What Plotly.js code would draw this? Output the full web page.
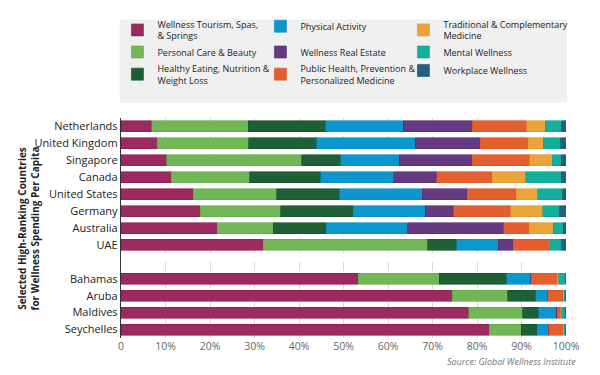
<!DOCTYPE html>
<html>
<head>
<meta charset="utf-8">
<script src="https://cdn.plot.ly/plotly-3.0.1.min.js"></script>
<style>html,body{margin:0;padding:0;background:#fff;}#chart{width:600px;height:375px;}</style>
</head>
<body>
<div id="chart"></div>
<script>
var countries = ["Netherlands","United Kingdom","Singapore","Canada","United States","Germany","Australia","UAE","Bahamas","Aruba","Maldives","Seychelles"];
var categoryOrder = ["Netherlands","United Kingdom","Singapore","Canada","United States","Germany","Australia","UAE"," ","Bahamas","Aruba","Maldives","Seychelles"];

var wellnessTourism = [6.9, 8.2, 10.3, 11.3, 16.2, 17.8, 21.6, 32.0, 53.3, 74.4, 78.2, 82.8];
var personalCare    = [21.7, 20.5, 30.3, 17.6, 18.8, 18.1, 12.6, 36.9, 18.2, 12.5, 12.1, 7.1];
var healthyEating   = [17.4, 15.3, 8.8, 16.0, 14.1, 16.3, 11.9, 6.6, 15.2, 6.3, 3.6, 3.6];
var physicalActivity= [17.4, 22.1, 13.1, 16.4, 18.6, 16.2, 18.3, 9.3, 5.4, 2.6, 3.9, 2.5];
var realEstate      = [15.5, 14.6, 16.4, 9.7, 10.1, 6.4, 21.6, 3.4, 0.1, 0.1, 0.2, 0.1];
var publicHealth    = [12.3, 10.8, 13.0, 12.4, 11.0, 12.8, 5.7, 8.0, 5.8, 3.5, 0.8, 3.3];
var traditional     = [4.1, 3.4, 5.0, 7.6, 4.8, 7.2, 5.4, 0.2, 0.4, 0.2, 0.2, 0.2];
var mentalWellness  = [3.7, 3.9, 2.0, 7.9, 5.7, 3.8, 2.3, 2.6, 1.5, 0.3, 0.8, 0.3];
var workplace       = [1.0, 1.2, 1.1, 1.1, 0.7, 1.4, 0.6, 1.0, 0.1, 0.1, 0.2, 0.1];

var xTickVals = [0,10,20,30,40,50,60,70,80,90,100];
var xTickText = ["0","10%","20%","30%","40%","50%","60%","70%","80%","90%","100%"];

var yTitle = "<b>Selected High-Ranking Countries<br>for Wellness Spending Per Capita</b>";
var sourceText = "<i>Source: Global Wellness Institute</i>";

// legend: row1 = "legend", row2 = "legend2", row3 = "legend3"; column 3 entries get a wider text slot
var series = [
  {name:"Wellness Tourism, Spas,<br>& Springs", values:wellnessTourism, color:"#9B2A60", line:"#8a1f52", legend:"legend", wide:false},
  {name:"Personal Care & Beauty", values:personalCare, color:"#72B655", line:"#62a845", legend:"legend2", wide:false},
  {name:"Healthy Eating, Nutrition &<br>Weight Loss", values:healthyEating, color:"#1F5F36", line:"#14502a", legend:"legend3", wide:false},
  {name:"Physical Activity", values:physicalActivity, color:"#0B97CE", line:"#0a88bc", legend:"legend", wide:false},
  {name:"Wellness Real Estate", values:realEstate, color:"#643A80", line:"#552c70", legend:"legend2", wide:false},
  {name:"Public Health, Prevention &<br>Personalized Medicine", values:publicHealth, color:"#E35F2F", line:"#d45224", legend:"legend3", wide:false},
  {name:"Traditional & Complementary<br>Medicine", values:traditional, color:"#E9A43A", line:"#e09a2e", legend:"legend", wide:true},
  {name:"Mental Wellness", values:mentalWellness, color:"#14AE9C", line:"#0fa08f", legend:"legend2", wide:true},
  {name:"Workplace Wellness", values:workplace, color:"#255E80", line:"#1d5070", legend:"legend3", wide:true}
];

var traces = series.map(function(s){
  var t = {
    type:"bar", orientation:"h",
    x:s.values, y:countries, name:s.name,
    marker:{color:s.color, line:{color:s.line, width:0.6}},
    legend:s.legend,
    hoverinfo:"x+y+name"
  };
  t.legendwidth = s.wide ? 125 : 98;
  return t;
});

var FONT = "Open Sans, Liberation Sans, sans-serif";

function rowLegend(yc){
  return {
    orientation:"h", x:-0.008, xanchor:"left", y:yc, yanchor:"middle",
    bgcolor:"rgba(0,0,0,0)", borderwidth:0,
    entrywidthmode:"pixels",
    font:{size:9, color:"#222222", family:FONT},
    traceorder:"normal", valign:"middle", tracegroupgap:0
  };
}

var layout = {
  width:600, height:375,
  margin:{l:121, r:34, t:108, b:37},
  paper_bgcolor:"#ffffff", plot_bgcolor:"#ffffff",
  barmode:"stack", bargap:0.35,
  font:{family:FONT, color:"#222222"},
  xaxis:{
    range:[0,100], tickvals:xTickVals, ticktext:xTickText,
    showgrid:true, gridcolor:"#d9d9d9", griddash:"dash", gridwidth:1,
    zeroline:false, showline:false, ticks:"",
    tickfont:{size:10.5, color:"#666666", family:FONT},
    fixedrange:true
  },
  yaxis:{
    type:"category", categoryorder:"array", categoryarray:categoryOrder,
    autorange:"reversed",
    showline:true, linecolor:"#333333", linewidth:1.2,
    showgrid:false, ticks:"", ticklen:0,
    tickfont:{size:11, color:"#222222", family:FONT},
    fixedrange:true
  },
  legend: rowLegend(1.399),
  legend2: rowLegend(1.300),
  legend3: rowLegend(1.198),
  shapes:[{
    type:"rect", xref:"paper", yref:"paper",
    x0:-0.003, x1:1.002, y0:1.0696, y1:1.4478,
    fillcolor:"#f0f0f0", line:{width:0}, layer:"above"
  }],
  annotations:[
    {
      text:yTitle, xref:"paper", yref:"paper", x:-0.208, y:0.5,
      xanchor:"center", yanchor:"middle", textangle:-90, showarrow:false,
      font:{size:10, color:"#222222", family:FONT}
    },
    {
      text:sourceText, xref:"paper", yref:"paper",
      x:1.026, y:-0.07, xanchor:"right", yanchor:"top", showarrow:false,
      font:{size:9, color:"#777777", family:FONT}
    }
  ],
  showlegend:true
};

Plotly.newPlot("chart", traces, layout, {displayModeBar:false, staticPlot:true});
</script>
</body>
</html>
